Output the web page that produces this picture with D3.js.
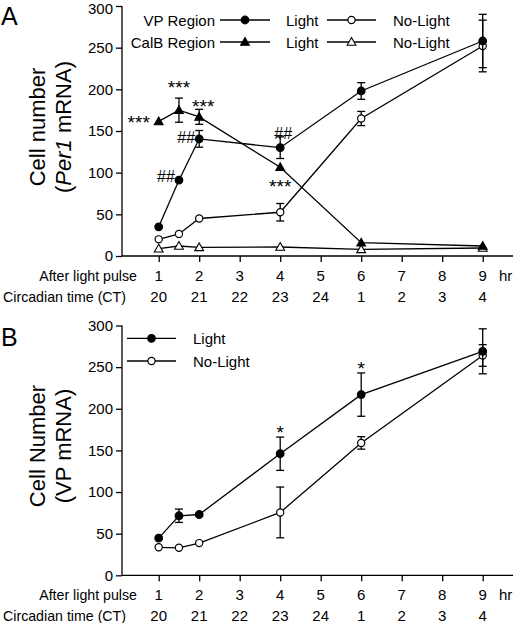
<!DOCTYPE html>
<html>
<head>
<meta charset="utf-8">
<script src="https://cdn.jsdelivr.net/npm/d3@7"></script>
<style>
  body { margin: 0; background: #fff; }
  svg { display: block; font-family: "Liberation Sans", Arial, sans-serif; }
</style>
</head>
<body>
<svg id="chart" width="514" height="623"></svg>
<script>
// ---------- DATA ----------
const hoursA = [1, 1.5, 2, 4, 6, 9];
const vpLight = [35, 91, 140.6, 130, 198, 258];
const vpLightErr = [0, 0, 10, 13, 10, 32];
const vpNoLight = [20, 26.5, 45, 52.5, 165, 252];
const vpNoLightErr = [0, 0, 0, 10.5, 8.5, 31];
const calbLight = [161.5, 175, 167, 106.5, 16, 12];
const calbLightErr = [0, 14.5, 9, 0, 0, 0];
const calbNoLight = [8.8, 12, 10.4, 10.8, 8, 9.6];
const calbNoLightErr = [0, 0, 0, 0, 0, 0];

const hoursB = [1, 1.5, 2, 4, 6, 9];
const bLight = [44.7, 71.5, 73, 146, 217, 269];
const bLightErr = [0, 8, 0, 20, 26, 27];
const bNoLight = [33.6, 33, 38.7, 75.5, 159, 264];
const bNoLightErr = [0, 0, 0, 30.5, 7.5, 13];

const xTicks = [1, 2, 3, 4, 5, 6, 7, 8, 9];
const ctLabels = ["20", "21", "22", "23", "24", "1", "2", "3", "4"];
const yTicks = [0, 50, 100, 150, 200, 250, 300];

// annotations: [x-hour, value, text, dx, dy]
const annotA = [
  [1, 161.5, "***", -20, 3],
  [1.5, 175, "***", 0, -21],
  [2, 167, "***", 4, -9],
  [1.5, 91, "##", -13, -3],
  [2, 140.6, "##", -13, -1],
  [4, 130, "##", 3, -14],
  [4, 106.5, "***", 0, 21]
];
const annotB = [
  [4, 146, "*", 0, -22],
  [6, 217, "*", 0, -27]
];

// ---------- LAYOUT ----------
const svg = d3.select("#chart");
const x = d3.scaleLinear().domain([0, 10]).range([118.2, 523.2]);
const yA = d3.scaleLinear().domain([0, 300]).range([256, 6]);
const yB = d3.scaleLinear().domain([0, 300]).range([575.3, 325.5]);
const axisLeftX = 122;
const axisRightX = 513;

function drawPanel(g, y, cfg) {
  const yAxis = d3.axisLeft(y).tickValues(yTicks).tickSize(6).tickPadding(3);
  const ya = g.append("g").attr("transform", `translate(${axisLeftX},0)`).call(yAxis);
  ya.select(".domain").attr("d", `M0,${y(300)}V${y(0)}`).attr("stroke", "#000").attr("stroke-width", 1.3);
  ya.selectAll(".tick line").attr("stroke", "#000").attr("stroke-width", 1.3);
  ya.selectAll(".tick text").attr("font-size", 15).attr("fill", "#000")
    .attr("font-family", "Liberation Sans, Arial, sans-serif");
  if (cfg.nudgeTop) {
    ya.selectAll(".tick text").filter(d => d === 300).attr("dy", "0.5em");
  }

  const xAxis = d3.axisBottom(x).tickValues(xTicks).tickSize(6).tickFormat("");
  const xa = g.append("g").attr("transform", `translate(0,${y(0)})`).call(xAxis);
  xa.select(".domain").attr("d", `M${axisLeftX},0H${axisRightX}`).attr("stroke", "#000").attr("stroke-width", 1.3);
  xa.selectAll(".tick line").attr("stroke", "#000").attr("stroke-width", 1.3);

  const row1 = y(0) + 25, row2 = y(0) + 45.5;
  g.append("text").attr("x", 137).attr("y", row1).attr("text-anchor", "end")
    .attr("font-size", 14.2).text("After light pulse");
  g.append("text").attr("x", 126).attr("y", row2).attr("text-anchor", "end")
    .attr("font-size", 14.2).text("Circadian time (CT)");
  g.selectAll(".hrlab").data(xTicks).enter().append("text")
    .attr("x", d => x(d)).attr("y", row1).attr("text-anchor", "middle")
    .attr("font-size", 15).text(d => d);
  g.append("text").attr("x", 499).attr("y", row1).attr("font-size", 15).text("hr");
  g.selectAll(".ctlab").data(xTicks).enter().append("text")
    .attr("x", d => x(d)).attr("y", row2).attr("text-anchor", "middle")
    .attr("font-size", 15).text((d, i) => ctLabels[i]);

  g.append("text").attr("x", 1).attr("y", cfg.letterY).attr("font-size", 25).text(cfg.letter);

  const cy = cfg.titleY;
  g.append("text").attr("transform", `translate(45,${cy}) rotate(-90)`)
    .attr("text-anchor", "middle").attr("font-size", 22).text(cfg.title1);
  const t2 = g.append("text").attr("transform", `translate(71,${cy}) rotate(-90)`)
    .attr("text-anchor", "middle").attr("font-size", 22);
  cfg.title2.forEach(p => {
    t2.append("tspan").attr("font-style", p[1] ? "italic" : "normal").text(p[0]);
  });
}

function marker(g, type, filled, cx, cy) {
  if (type === "circle") {
    g.append("circle").attr("cx", cx).attr("cy", cy).attr("r", filled ? 3.8 : 3.6)
      .attr("fill", filled ? "#000" : "#fff").attr("stroke", "#000").attr("stroke-width", 1.2);
  } else {
    const s = 4.4;
    g.append("path").attr("d", `M${cx},${cy - s}L${cx + s},${cy + s * 0.75}L${cx - s},${cy + s * 0.75}Z`)
      .attr("fill", filled ? "#000" : "#fff").attr("stroke", "#000").attr("stroke-width", 1.1);
  }
}

function drawSeries(g, y, xs, vals, errs, type, filled) {
  const line = d3.line().x(d => x(d[0])).y(d => y(d[1]));
  const pts = xs.map((h, i) => [h, vals[i], errs[i]]);
  pts.forEach(p => {
    if (p[2] > 0) {
      const cx = x(p[0]);
      const y1 = y(p[1] + p[2]), y2 = y(p[1] - p[2]);
      g.append("line").attr("x1", cx).attr("x2", cx).attr("y1", y1).attr("y2", y2)
        .attr("stroke", "#000").attr("stroke-width", 1.3);
      [y1, y2].forEach(yy => g.append("line").attr("x1", cx - 4).attr("x2", cx + 4)
        .attr("y1", yy).attr("y2", yy).attr("stroke", "#000").attr("stroke-width", 1.3));
    }
  });
  g.append("path").datum(pts).attr("d", line).attr("fill", "none")
    .attr("stroke", "#000").attr("stroke-width", 1.3);
  pts.forEach(p => marker(g, type, filled, x(p[0]), y(p[1])));
}

function legendItem(g, x1, x2, yy, type, filled) {
  g.append("line").attr("x1", x1).attr("x2", x2).attr("y1", yy).attr("y2", yy)
    .attr("stroke", "#000").attr("stroke-width", 1.3);
  marker(g, type, filled, (x1 + x2) / 2, yy);
}

// ---------- PANEL A ----------
const gA = svg.append("g");
drawPanel(gA, yA, { letter: "A", letterY: 25, title1: "Cell number", nudgeTop: true,
  title2: [["(", false], ["Per1", true], [" mRNA)", false]], titleY: 127 });
drawSeries(gA, yA, hoursA, calbNoLight, calbNoLightErr, "tri", false);
drawSeries(gA, yA, hoursA, calbLight, calbLightErr, "tri", true);
drawSeries(gA, yA, hoursA, vpNoLight, vpNoLightErr, "circle", false);
drawSeries(gA, yA, hoursA, vpLight, vpLightErr, "circle", true);
annotA.forEach(a => gA.append("text").attr("x", x(a[0]) + a[3]).attr("y", yA(a[1]) + a[4] + 5)
  .attr("text-anchor", "middle").attr("font-size", a[2][0] === "*" ? 19 : 16).text(a[2]));

const legRows = [20, 42];
gA.append("text").attr("x", 215).attr("y", legRows[0] + 5.5).attr("text-anchor", "end").attr("font-size", 15).text("VP Region");
gA.append("text").attr("x", 215).attr("y", legRows[1] + 5.5).attr("text-anchor", "end").attr("font-size", 15).text("CalB Region");
legendItem(gA, 220, 270, legRows[0], "circle", true);
legendItem(gA, 220, 270, legRows[1], "tri", true);
gA.append("text").attr("x", 286).attr("y", legRows[0] + 5.5).attr("font-size", 15).text("Light");
gA.append("text").attr("x", 286).attr("y", legRows[1] + 5.5).attr("font-size", 15).text("Light");
legendItem(gA, 327, 376, legRows[0], "circle", false);
legendItem(gA, 327, 376, legRows[1], "tri", false);
gA.append("text").attr("x", 393).attr("y", legRows[0] + 5.5).attr("font-size", 15).text("No-Light");
gA.append("text").attr("x", 393).attr("y", legRows[1] + 5.5).attr("font-size", 15).text("No-Light");

// ---------- PANEL B ----------
const gB = svg.append("g");
drawPanel(gB, yB, { letter: "B", letterY: 346, title1: "Cell Number",
  title2: [["(VP mRNA)", false]], titleY: 446 });
drawSeries(gB, yB, hoursB, bNoLight, bNoLightErr, "circle", false);
drawSeries(gB, yB, hoursB, bLight, bLightErr, "circle", true);
annotB.forEach(a => gB.append("text").attr("x", x(a[0]) + a[3]).attr("y", yB(a[1]) + a[4] + 7)
  .attr("text-anchor", "middle").attr("font-size", 19).text(a[2]));

legendItem(gB, 127, 176, 338.3, "circle", true);
legendItem(gB, 127, 176, 361, "circle", false);
gB.append("text").attr("x", 193).attr("y", 343.8).attr("font-size", 15).text("Light");
gB.append("text").attr("x", 193).attr("y", 366.5).attr("font-size", 15).text("No-Light");
</script>
</body>
</html>
